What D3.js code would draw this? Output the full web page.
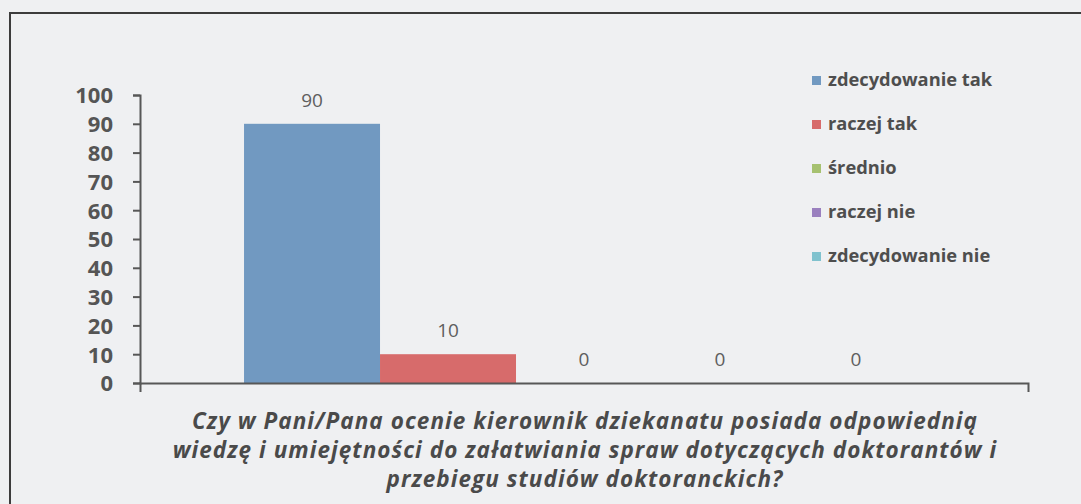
<!DOCTYPE html>
<html>
<head>
<meta charset="utf-8">
<script src="https://cdn.jsdelivr.net/npm/d3@7"></script>
<style>
  html, body { margin: 0; padding: 0; background: #eff0f2; }
  svg { display: block; }
</style>
</head>
<body>
<svg id="chart" width="1081" height="504"></svg>
<script>
// ---- data ----
const categories = ["Czy w Pani/Pana ocenie kierownik dziekanatu posiada odpowiednią wiedzę i umiejętności do załatwiania spraw dotyczących doktorantów i przebiegu studiów doktoranckich?"];
const categoryLines = [
  "Czy w Pani/Pana ocenie kierownik dziekanatu posiada odpowiednią",
  "wiedzę i umiejętności do załatwiania spraw dotyczących doktorantów i",
  "przebiegu studiów doktoranckich?"
];
const seriesNames = ["zdecydowanie tak", "raczej tak", "średnio", "raczej nie", "zdecydowanie nie"];
const seriesValues = [90, 10, 0, 0, 0];
const seriesColors = ["#7199c1", "#d76b6b", "#a6c170", "#9a80bf", "#80c2ce"];
const yTicks = [0, 10, 20, 30, 40, 50, 60, 70, 80, 90, 100];

// ---- layout ----
const svg = d3.select("#chart");
const W = 1081, H = 504;
const plot = { left: 140, right: 1028, top: 95, bottom: 383 };
const textColor = "#555555";
const axisColor = "#575757";
const font = "'Open Sans', 'DejaVu Sans', sans-serif";

svg.append("rect").attr("width", W).attr("height", H).attr("fill", "#eff0f2");
// outer frame
svg.append("rect")
  .attr("x", 10).attr("y", 13).attr("width", 1100).attr("height", 520)
  .attr("fill", "none").attr("stroke", "#3c3c3c").attr("stroke-width", 2);

const x0 = d3.scaleBand().domain(categories).range([plot.left, plot.right])
  .paddingInner(0).paddingOuter(0.153);
const x1 = d3.scaleBand().domain(seriesNames).range([0, x0.bandwidth()]).padding(0);
const y = d3.scaleLinear().domain([0, 100]).range([plot.bottom, plot.top]);

const rows = [];
categories.forEach(c => seriesNames.forEach((s, i) => rows.push({ c, s, v: seriesValues[i], color: seriesColors[i] })));

// bars
svg.append("g").selectAll("rect").data(rows).join("rect")
  .attr("x", d => x0(d.c) + x1(d.s))
  .attr("y", d => y(d.v))
  .attr("width", x1.bandwidth())
  .attr("height", d => y(0) - y(d.v))
  .attr("fill", d => d.color);

// value labels
svg.append("g").selectAll("text").data(rows).join("text")
  .attr("x", d => x0(d.c) + x1(d.s) + x1.bandwidth() / 2)
  .attr("y", d => y(d.v) - 17)
  .attr("text-anchor", "middle")
  .attr("font-family", font).attr("font-size", 19)
  .attr("fill", "#5e5e5e")
  .text(d => d.v);

// y axis
const yAxis = svg.append("g").attr("transform", `translate(${plot.left},0)`)
  .call(d3.axisLeft(y).tickValues(yTicks).tickSize(7).tickSizeOuter(7).tickPadding(20));
yAxis.selectAll("path, line").attr("stroke", axisColor).attr("stroke-width", 2);
yAxis.selectAll("text").attr("font-family", font).attr("font-size", 22)
  .attr("font-weight", "bold").attr("fill", textColor).attr("dy", "0.36em");

// x axis
const xAxis = svg.append("g").attr("transform", `translate(0,${plot.bottom})`)
  .call(d3.axisBottom(x0).tickSize(0).tickSizeOuter(9).tickFormat(""));
xAxis.selectAll("path, line").attr("stroke", axisColor).attr("stroke-width", 2);

// category label (multi-line)
const cat = svg.append("text")
  .attr("text-anchor", "middle")
  .attr("font-family", font).attr("font-size", 22.5)
  .attr("letter-spacing", 1.05)
  .attr("font-weight", "bold").attr("font-style", "italic")
  .attr("fill", "#4a4a4a");
categoryLines.forEach((l, i) => {
  cat.append("tspan").attr("x", 585).attr("y", 429 + i * 29).text(l);
});

// legend
const lg = svg.append("g").attr("transform", "translate(812,76)");
const li = lg.selectAll("g").data(seriesNames).join("g")
  .attr("transform", (d, i) => `translate(0,${i * 44})`);
li.append("rect").attr("width", 9).attr("height", 9).attr("fill", (d, i) => seriesColors[i]);
li.append("text").attr("x", 16).attr("y", 10)
  .attr("font-family", font).attr("font-size", 18.3).attr("font-weight", "bold")
  .attr("fill", "#4e4e4e").text(d => d);
</script>
</body>
</html>
